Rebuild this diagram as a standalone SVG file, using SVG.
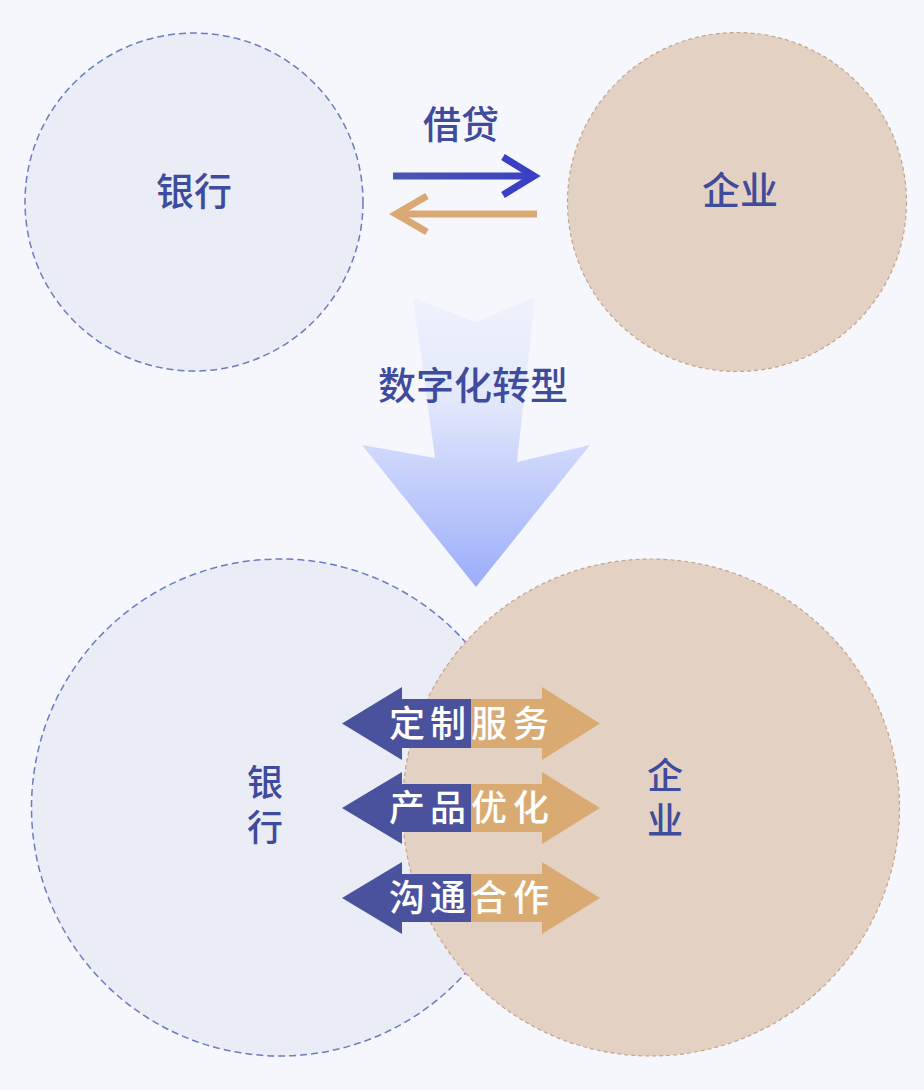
<svg xmlns="http://www.w3.org/2000/svg" width="924" height="1090" viewBox="0 0 924 1090">
<defs>
<linearGradient id="bigArrowGrad" x1="0" y1="297" x2="0" y2="587" gradientUnits="userSpaceOnUse">
<stop offset="0" stop-color="#eff2fb"/>
<stop offset="0.35" stop-color="#e3e9fb"/>
<stop offset="1" stop-color="#9cadfb"/>
</linearGradient>
<linearGradient id="blueLine" x1="393" y1="0" x2="537" y2="0" gradientUnits="userSpaceOnUse">
<stop offset="0" stop-color="#4a56b0"/>
<stop offset="1" stop-color="#3a40c4"/>
</linearGradient>
</defs>
<style>
.bank{fill:#ebedf6;stroke:#6c7cc0;stroke-width:1.5;stroke-dasharray:7 4}
.ent{fill:#e3d2c3;stroke:#c4a486;stroke-width:1.2;stroke-dasharray:4 3}
.lbl{font-family:"Noto Sans CJK SC","Noto Sans",sans-serif;fill:#3f4b9c;font-weight:500}
.vert{writing-mode:vertical-rl;letter-spacing:9px}
.wt{font-family:"Noto Sans CJK SC","Noto Sans",sans-serif;fill:#ffffff;font-size:36px;font-weight:500}
.blue{fill:#4a529e}
.orange{fill:#d9ab73}
</style>
<rect width="924" height="1090" fill="#f6f7fc"/>

<g id="bank-top">
<circle class="bank" cx="194" cy="202" r="169"/>
<text class="lbl" x="194" y="205" font-size="38" text-anchor="middle">银行</text>
</g>
<g id="enterprise-top">
<circle class="ent" cx="737" cy="202" r="169.5"/>
<text class="lbl" x="740" y="204" font-size="38" text-anchor="middle">企业</text>
</g>

<g id="bank-bottom">
<circle class="bank" cx="280" cy="807.5" r="248.5"/>
<text class="lbl vert" x="265" y="764" font-size="36">银行</text>
</g>
<g id="enterprise-bottom">
<circle class="ent" cx="651" cy="807.5" r="248.5"/>
<text class="lbl vert" x="665" y="757" font-size="36">企业</text>
</g>

<g id="connectors">
<g id="loan-arrows">
<text class="lbl" x="461" y="138" font-size="38" font-weight="700" text-anchor="middle">借贷</text>
<line x1="393" y1="176" x2="530" y2="176" stroke="url(#blueLine)" stroke-width="7"/>
<polyline points="503,157 534,176 503,195" fill="none" stroke="#3a40c4" stroke-width="7"/>
<line x1="400" y1="214" x2="537" y2="214" stroke="#d9a874" stroke-width="7"/>
<polyline points="427,196 396,214 427,232" fill="none" stroke="#d9a874" stroke-width="7"/>
</g>
<g id="transform-arrow">
<polygon points="413,298 476,322 535,297 517,462 590,445 476,587 362,445 435,458" fill="url(#bigArrowGrad)"/>
<text class="lbl" x="473" y="399" font-size="38" text-anchor="middle">数字化转型</text>
</g>
<g id="arrow-service">
<polygon class="blue" points="471,699 402,699 402,687 342,723.5 402,760 402,748 471,748"/>
<polygon class="orange" points="471,699 542,699 542,687 600,723.5 542,760 542,748 471,748"/>
<text class="wt" x="407 448 489 531" y="737" text-anchor="middle">定制服务</text>
</g>
<g id="arrow-product">
<polygon class="blue" points="471,784 402,784 402,772 342,808 402,844 402,832 471,832"/>
<polygon class="orange" points="471,784 542,784 542,772 600,808 542,844 542,832 471,832"/>
<text class="wt" x="407 448 489 531" y="821" text-anchor="middle">产品优化</text>
</g>
<g id="arrow-communication">
<polygon class="blue" points="471,874 402,874 402,862 342,898 402,934 402,922 471,922"/>
<polygon class="orange" points="471,874 542,874 542,862 600,898 542,934 542,922 471,922"/>
<text class="wt" x="407 448 489 531" y="911" text-anchor="middle">沟通合作</text>
</g>
</g>
</svg>
